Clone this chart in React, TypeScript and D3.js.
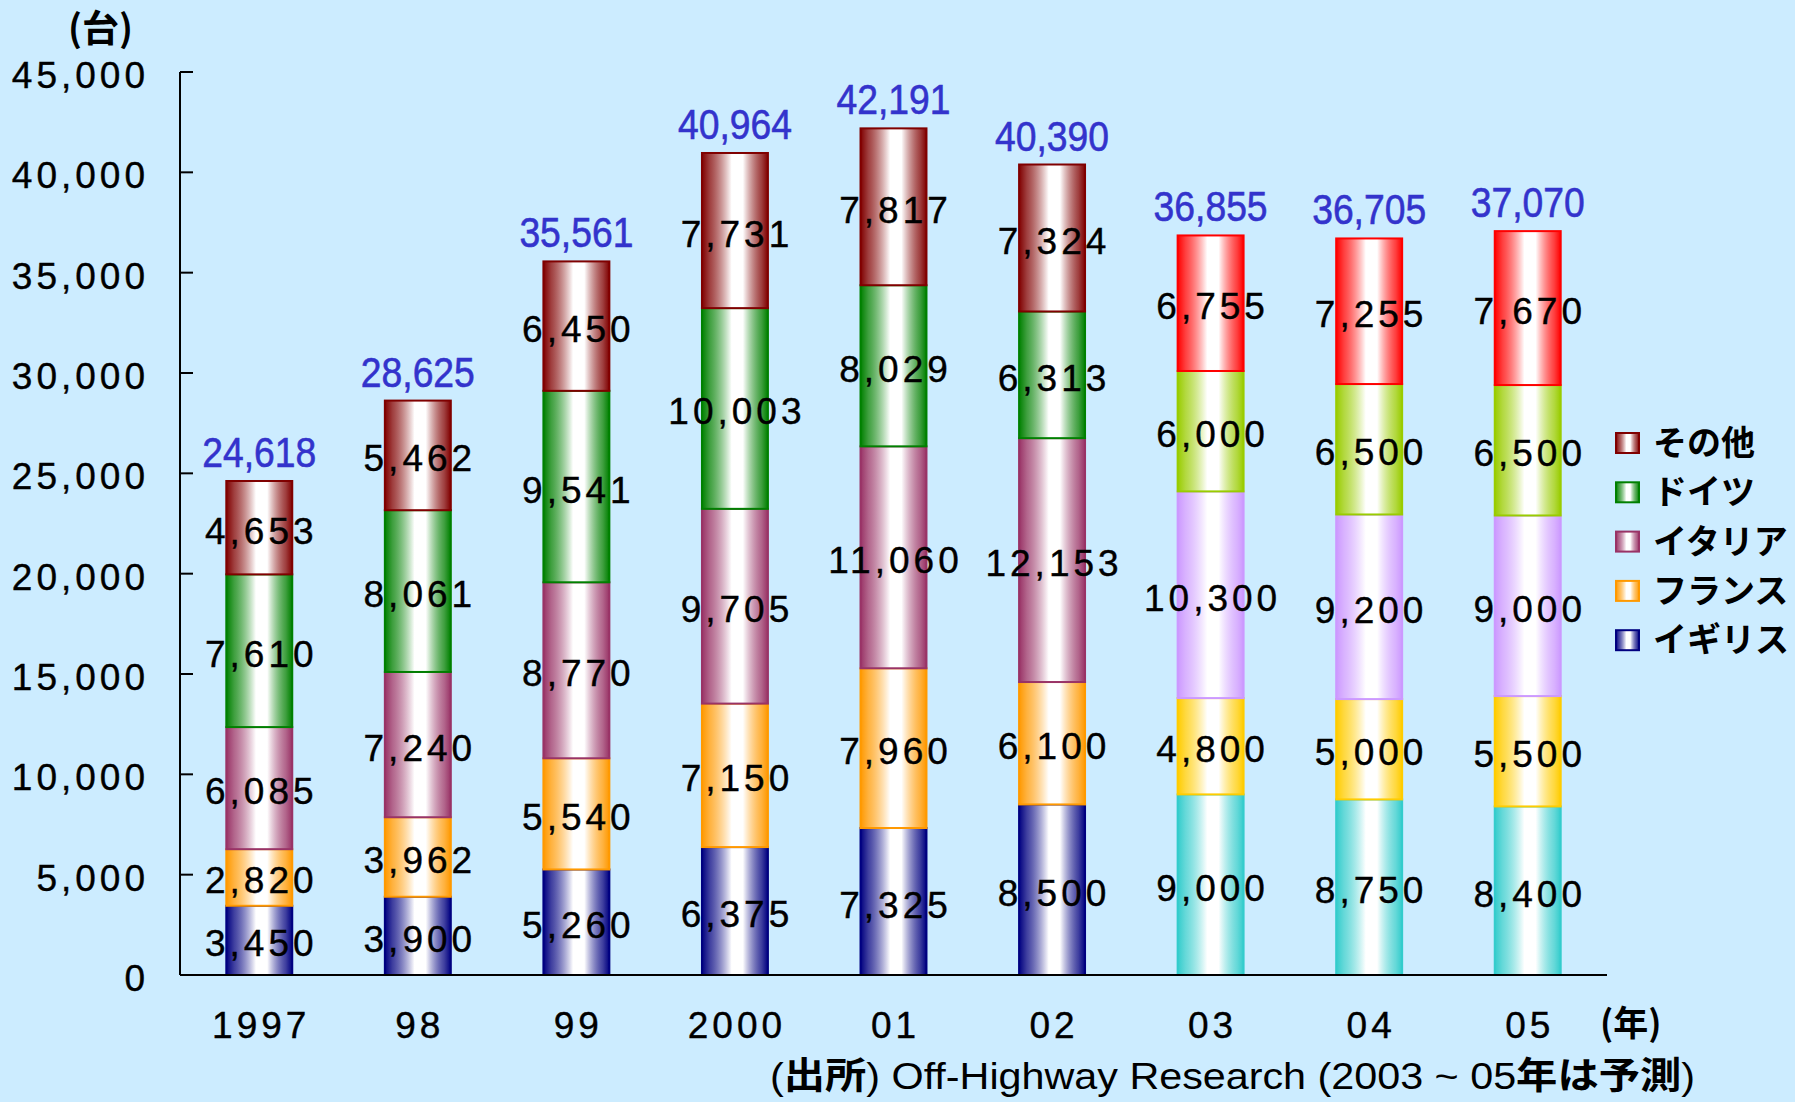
import React from "react";
import * as d3 from "d3";

const categories = ["1997", "98", "99", "2000", "01", "02", "03", "04", "05"];
const seriesNames = ["イギリス", "フランス", "イタリア", "ドイツ", "その他"];
const ukValues = [3450, 3900, 5260, 6375, 7325, 8500, 9000, 8750, 8400];
const franceValues = [2820, 3962, 5540, 7150, 7960, 6100, 4800, 5000, 5500];
const italyValues = [6085, 7240, 8770, 9705, 11060, 12153, 10300, 9200, 9000];
const germanyValues = [7610, 8061, 9541, 10003, 8029, 6313, 6000, 6500, 6500];
const otherValues = [4653, 5462, 6450, 7731, 7817, 7324, 6755, 7255, 7670];
const totals = [24618, 28625, 35561, 40964, 42191, 40390, 36855, 36705, 37070];
const yTicks = [0, 5000, 10000, 15000, 20000, 25000, 30000, 35000, 40000, 45000];
const forecastCategories = ["03", "04", "05"];

const actualColors = ["#000080", "#FF9900", "#993366", "#008000", "#800000"];
const forecastColors = ["#33CCCC", "#FFCC00", "#CC99FF", "#99CC00", "#FF0000"];

const W = 1795;
const H = 1102;
const axisX = 180;
const axisRight = 1607;
const plotTop = 72;
const plotBottom = 975;

const NUM_FONT = "'Liberation Sans', Arial, Helvetica, sans-serif";
const NARROW_FONT = "'Liberation Sans Narrow', 'Arial Narrow', 'Liberation Sans', Arial, sans-serif";
const CJK_FONT = "'Noto Sans CJK JP', 'Noto Sans', sans-serif";

export default function App() {
  const valuesBySeries = [ukValues, franceValues, italyValues, germanyValues, otherValues];
  const rows = categories.map((c, i) => {
    const r: any = { cat: c };
    seriesNames.forEach((s, k) => (r[s] = valuesBySeries[k][i]));
    return r;
  });
  const stacked = d3.stack<any>().keys(seriesNames)(rows);

  const x = d3.scaleBand<string>().domain(categories).range([axisX, axisRight]).paddingInner(0.584).paddingOuter(0.292);
  const y = d3.scaleLinear().domain([0, 45000]).range([plotBottom, plotTop]);
  const fmt = d3.format(",");
  const bw = x.bandwidth();

  const allColors = Array.from(new Set([...actualColors, ...forecastColors]));
  const gid = (c: string) => "g" + c.replace("#", "");
  const colorFor = (k: number, cat: string) =>
    forecastCategories.includes(cat) ? forecastColors[k] : actualColors[k];

  const legendOrder = seriesNames.map((s, k) => ({ s, k })).reverse();

  return (
    <svg width={W} height={H} style={{ position: "absolute", left: 0, top: 0, display: "block" }}>
      <defs>
        {allColors.map((c) => (
          <linearGradient id={gid(c)} key={c} x1="0" x2="1" y1="0" y2="0">
            <stop offset="0" stopColor={c} />
            <stop offset="0.12" stopColor={c} stopOpacity={0.75} />
            <stop offset="0.45" stopColor="#ffffff" />
            <stop offset="0.62" stopColor="#ffffff" />
            <stop offset="0.9" stopColor={c} stopOpacity={0.75} />
            <stop offset="1" stopColor={c} />
          </linearGradient>
        ))}
      </defs>
      <rect x={0} y={0} width={W} height={H} fill="#CCECFF" />

      {/* bars */}
      {stacked.map((layer, k) =>
        layer.map((d, i) => {
          const cat = categories[i];
          const c = colorFor(k, cat);
          const x0 = x(cat)!;
          const yTop = y(d[1]);
          const yBot = y(d[0]);
          return (
            <g key={`${k}-${i}`}>
              <rect x={x0} y={yTop} width={bw} height={yBot - yTop} fill="#ffffff" />
              <rect
                x={x0}
                y={yTop}
                width={bw}
                height={yBot - yTop}
                fill={`url(#${gid(c)})`}
                stroke={c}
                strokeWidth={2}
              />
            </g>
          );
        })
      )}

      {/* segment labels */}
      {stacked.map((layer, k) =>
        layer.map((d, i) => {
          const cat = categories[i];
          const cy = (y(d[0]) + y(d[1])) / 2;
          return (
            <text
              key={`l${k}-${i}`}
              x={x(cat)! + bw / 2 + 2}
              y={cy + 16}
              textAnchor="middle"
              fontFamily={NUM_FONT}
              fontSize={37}
              letterSpacing={4}
              fill="#000"
              stroke="#000"
              strokeWidth={0.4}
            >
              {fmt(d[1] - d[0])}
            </text>
          );
        })
      )}

      {/* totals */}
      {categories.map((cat, i) => (
        <text
          key={`t${i}`}
          x={x(cat)! + bw / 2 - 57}
          y={y(totals[i]) - 14}
          fontFamily={NARROW_FONT}
          fontSize={43}
          fill="#3333CC"
          stroke="#3333CC"
          strokeWidth={0.6}
          textLength={114}
          lengthAdjust="spacingAndGlyphs"
        >
          {fmt(totals[i])}
        </text>
      ))}

      {/* axes */}
      <line x1={axisX} x2={axisX} y1={plotTop} y2={plotBottom} stroke="#000" strokeWidth={2} />
      <line x1={axisX} x2={axisRight} y1={plotBottom} y2={plotBottom} stroke="#000" strokeWidth={2} />
      {yTicks.map((t) => (
        <g key={`yt${t}`}>
          <line x1={axisX} x2={axisX + 13} y1={y(t)} y2={y(t)} stroke="#000" strokeWidth={2} />
          <text
            x={149}
            y={y(t) + 16}
            textAnchor="end"
            fontFamily={NUM_FONT}
            fontSize={37}
            letterSpacing={4}
            fill="#000"
            stroke="#000"
            strokeWidth={0.4}
          >
            {fmt(t)}
          </text>
        </g>
      ))}
      {categories.map((cat) => (
        <text
          key={`xt${cat}`}
          x={x(cat)! + bw / 2 + 2}
          y={1038}
          textAnchor="middle"
          fontFamily={NUM_FONT}
          fontSize={37}
          letterSpacing={4}
          fill="#000"
          stroke="#000"
          strokeWidth={0.4}
        >
          {cat}
        </text>
      ))}

      {/* unit labels */}
      <text x={68} y={42} fontFamily={CJK_FONT} fontWeight="bold" fontSize={37} fill="#000">
        (台)
      </text>
      <text x={1600} y={1036} fontFamily={CJK_FONT} fontWeight="bold" fontSize={35} fill="#000">
        (年)
      </text>

      {/* legend */}
      {legendOrder.map(({ s, k }, j) => {
        const cy = 443 + j * 49.3;
        const c = actualColors[k];
        return (
          <g key={`lg${s}`}>
            <rect x={1616} y={cy - 10} width={23} height={20} fill="#fff" />
            <rect x={1616} y={cy - 10} width={23} height={20} fill={`url(#${gid(c)})`} stroke={c} strokeWidth={2} />
            <text x={1653} y={cy + 12} fontFamily={CJK_FONT} fontWeight="bold" fontSize={34} fill="#000">
              {s}
            </text>
          </g>
        );
      })}

      {/* source */}
      <text
        x={770}
        y={1089}
        fontFamily={NARROW_FONT}
        fontSize={37}
        fill="#000"
        textLength={925}
        lengthAdjust="spacingAndGlyphs"
      >
        <tspan>(</tspan>
        <tspan fontFamily={CJK_FONT} fontWeight="bold">出所</tspan>
        <tspan>) Off-Highway Research (2003 ~ 05</tspan>
        <tspan fontFamily={CJK_FONT} fontWeight="bold">年は予測</tspan>
        <tspan>)</tspan>
      </text>
    </svg>
  );
}
